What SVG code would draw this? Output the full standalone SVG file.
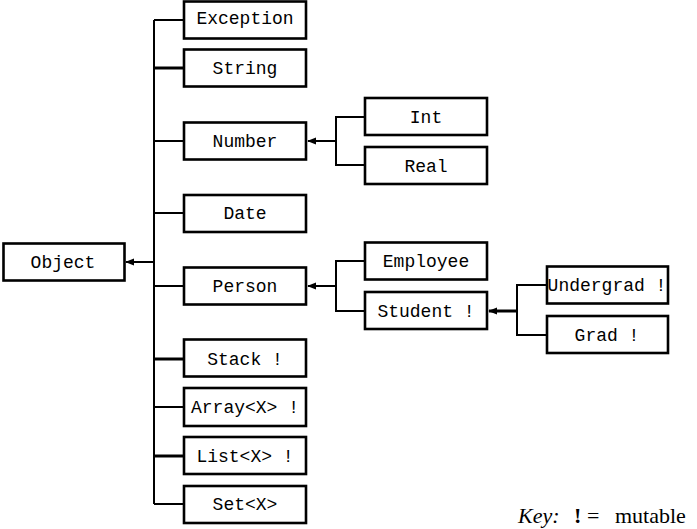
<svg xmlns="http://www.w3.org/2000/svg" width="697" height="529" viewBox="0 0 697 529">
<defs>
<marker id="ah" viewBox="0 0 10 10" refX="9" refY="5" markerWidth="9" markerHeight="9" markerUnits="userSpaceOnUse" orient="auto">
<path d="M0,1 L10,5 L0,9 z" fill="#000"/>
</marker>
</defs>
<style>
.box{fill:#fff;stroke:#000;stroke-width:2.6}
.lbl{font-family:"Liberation Mono","DejaVu Sans Mono",monospace;font-size:18px;text-anchor:middle;dominant-baseline:central;fill:#000}
.ln{fill:none;stroke:#000;stroke-width:2}
.thk{stroke-width:3}
.key{font-family:"Liberation Serif",serif;font-size:22px;fill:#000}
</style>
<rect width="697" height="529" fill="#fff"/>
<g id="connectors">
<path class="ln" d="M154,20 V504"/>
<path class="ln" d="M154,262 H126" marker-end="url(#ah)"/>
<path class="ln" d="M154,20 H184"/>
<path class="ln thk" d="M154,68 H184"/>
<path class="ln" d="M154,141 H184"/>
<path class="ln" d="M154,213 H184"/>
<path class="ln" d="M154,286 H184"/>
<path class="ln thk" d="M154,359 H184"/>
<path class="ln" d="M154,407 H184"/>
<path class="ln thk" d="M154,456 H184"/>
<path class="ln" d="M154,504 H184"/>
<path class="ln" d="M365,117 H336 V165 H365"/>
<path class="ln" d="M336,141 H308" marker-end="url(#ah)"/>
<path class="ln" d="M365,261 H336 V311 H365"/>
<path class="ln" d="M336,286 H308" marker-end="url(#ah)"/>
<path class="ln" d="M547,285 H517 V335 H547"/>
<path class="ln thk" d="M517,311 H489" marker-end="url(#ah)"/>
</g>
<g id="object"><rect class="box" x="3.5" y="243.5" width="121" height="37"/><text class="lbl" x="63" y="263">Object</text></g>
<g id="exception"><rect class="box" x="184" y="1.5" width="122" height="37"/><text class="lbl" x="245" y="19">Exception</text></g>
<g id="string"><rect class="box" x="184" y="49.5" width="122" height="37"/><text class="lbl" x="245" y="69">String</text></g>
<g id="number"><rect class="box" x="184" y="122.5" width="122" height="37"/><text class="lbl" x="245" y="142">Number</text></g>
<g id="date"><rect class="box" x="184" y="195" width="122" height="37"/><text class="lbl" x="245" y="214">Date</text></g>
<g id="person"><rect class="box" x="184" y="267.5" width="122" height="37"/><text class="lbl" x="245" y="287">Person</text></g>
<g id="stack"><rect class="box" x="184" y="339.5" width="122" height="37"/><text class="lbl" x="245" y="360">Stack !</text></g>
<g id="array"><rect class="box" x="184" y="388" width="122" height="38"/><text class="lbl" x="245" y="408">Array&lt;X&gt; !</text></g>
<g id="list"><rect class="box" x="184" y="437" width="122" height="37"/><text class="lbl" x="245" y="457">List&lt;X&gt; !</text></g>
<g id="set"><rect class="box" x="184" y="486" width="122" height="37"/><text class="lbl" x="245" y="505">Set&lt;X&gt;</text></g>
<g id="int"><rect class="box" x="365" y="98" width="122" height="37"/><text class="lbl" x="426" y="118">Int</text></g>
<g id="real"><rect class="box" x="365" y="147" width="122" height="37"/><text class="lbl" x="426" y="167">Real</text></g>
<g id="employee"><rect class="box" x="365" y="242.5" width="122" height="37"/><text class="lbl" x="426" y="262">Employee</text></g>
<g id="student"><rect class="box" x="365" y="292" width="122" height="37"/><text class="lbl" x="426" y="312">Student !</text></g>
<g id="undergrad"><rect class="box" x="547" y="266.5" width="121" height="37"/><text class="lbl" x="607" y="286">Undergrad !</text></g>
<g id="grad"><rect class="box" x="547" y="316" width="121" height="37"/><text class="lbl" x="607" y="336">Grad !</text></g>
<g id="key"><text class="key" y="523"><tspan x="518" font-style="italic">Key:</tspan><tspan x="574" font-weight="bold">!</tspan><tspan x="587">=</tspan><tspan x="615">mutable</tspan></text></g>
</svg>
